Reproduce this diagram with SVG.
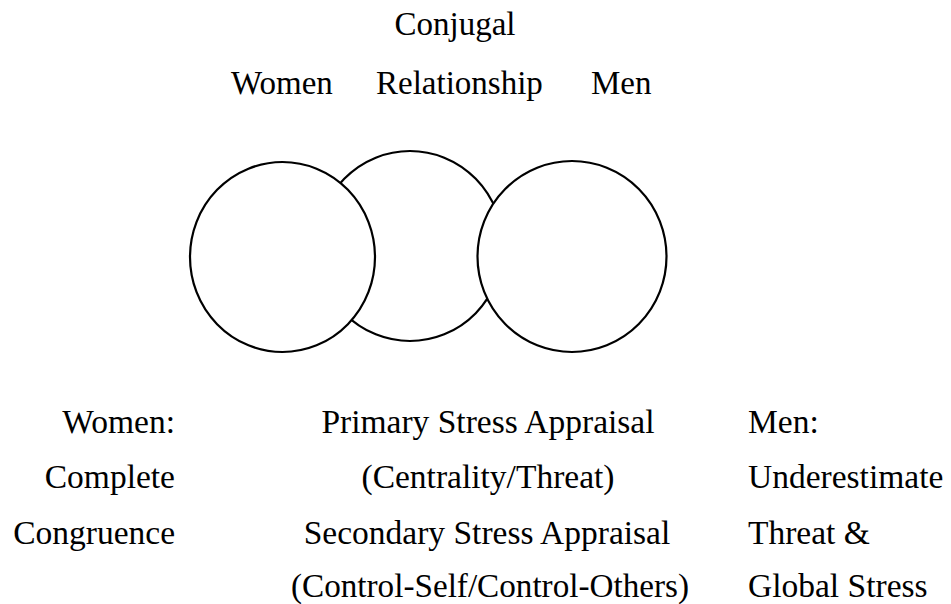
<svg xmlns="http://www.w3.org/2000/svg" width="951" height="604" viewBox="0 0 951 604">
<style>
.c{fill:#fff;stroke:#000;stroke-width:2.2}
text{font-family:"Liberation Serif","Times New Roman",serif;font-size:33.5px;fill:#000}
.t{font-size:33px}
.m{text-anchor:middle}
.e{text-anchor:end}
</style>
<rect width="951" height="604" fill="#fff"/>
<g id="header">
<text class="t m" x="455" y="35">Conjugal</text>
<text class="t" x="231" y="94">Women</text>
<text class="t" x="376" y="94">Relationship</text>
<text class="t" x="591" y="94">Men</text>
</g>
<g id="relationship"><ellipse class="c" cx="410" cy="246" rx="93" ry="95"/></g>
<g id="women"><ellipse class="c" cx="282.5" cy="257" rx="92.5" ry="95"/></g>
<g id="men"><ellipse class="c" cx="572" cy="256.5" rx="94.5" ry="95.5"/></g>
<g id="connectors"></g>
<g id="women-label">
<text class="e" x="175" y="433">Women:</text>
<text class="e" x="175" y="488">Complete</text>
<text class="e" x="175" y="544">Congruence</text>
</g>
<g id="appraisal-label">
<text class="m" x="488" y="433">Primary Stress Appraisal</text>
<text class="m" x="488" y="488">(Centrality/Threat)</text>
<text class="m" x="487" y="544">Secondary Stress Appraisal</text>
<text class="m" x="490" y="597" textLength="398" lengthAdjust="spacingAndGlyphs">(Control-Self/Control-Others)</text>
</g>
<g id="men-label">
<text x="748" y="433">Men:</text>
<text x="748" y="488">Underestimate</text>
<text x="748" y="544">Threat &amp;</text>
<text x="748" y="597">Global Stress</text>
</g>
</svg>
